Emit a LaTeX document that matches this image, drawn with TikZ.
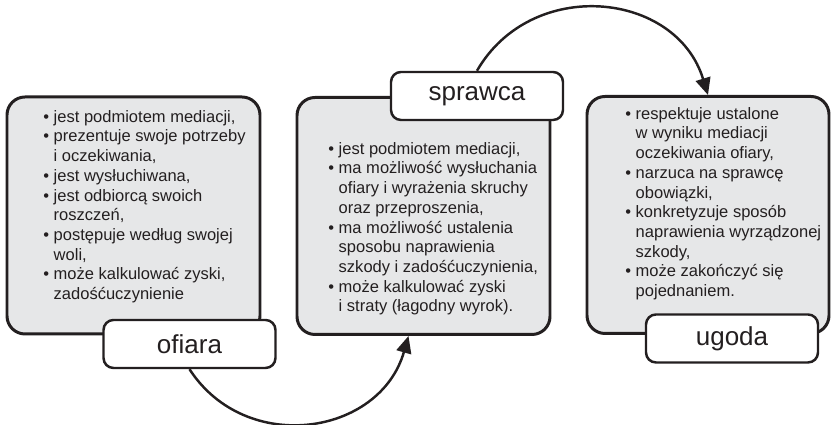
\documentclass[tikz,border=0pt]{standalone}
\usepackage{fontspec}
\setmainfont{Liberation Sans}
\definecolor{ink}      {HTML}{231F20}
\definecolor{panelgray}{HTML}{E6E7E8}
\usetikzlibrary{positioning,arrows.meta}
\newcommand\bul{•\ }
\newcommand\ind{\hphantom{•\ }}
\tikzset{
  panelbox/.style={draw=ink,line width=1.7pt,rounded corners=0.36cm,
                   fill=panelgray,minimum width=5.06cm,minimum height=4.74cm},
  tagbox/.style={draw=ink,line width=1.4pt,rounded corners=0.2cm,fill=white,
                 minimum width=3.44cm,minimum height=0.96cm,text=ink,
                 font=\fontsize{14.8}{17}\selectfont},
  list/.style={anchor=north west,inner sep=0pt,align=left,text=ink,
               font=\fontsize{9.4}{11.2}\selectfont},
  flow/.style={-{Triangle[length=0.34cm,width=0.3cm]},line width=1.4pt,
               draw=ink,looseness=1.2}
}

\begin{document}
\begin{tikzpicture}
  \useasboundingbox (0,0) rectangle (16.7,8.5);
  % panels
  \node[panelbox] (ofiaraBox)  at (2.67,4.19) {};
  \node[panelbox] (sprawcaBox) at (8.47,4.18) {};
  \node[panelbox,minimum width=4.84cm] (ugodaBox) at (14.16,4.2) {};
  % lists
  \node[list] (ofiaraList) at (0.86,6.3) {\bul jest podmiotem mediacji,\\
    \bul prezentuje swoje potrzeby\\ \ind i oczekiwania,\\
    \bul jest wysłuchiwana,\\
    \bul jest odbiorcą swoich\\ \ind roszczeń,\\
    \bul postępuje według swojej\\ \ind woli,\\
    \bul może kalkulować zyski,\\ \ind zadośćuczynienie};
  \node[list] (sprawcaList) at (6.56,5.66) {\bul jest podmiotem mediacji,\\
    \bul ma możliwość wysłuchania\\ \ind ofiary i wyrażenia skruchy\\
    \ind oraz przeproszenia,\\
    \bul ma możliwość ustalenia\\ \ind sposobu naprawienia\\
    \ind szkody i zadośćuczynienia,\\
    \bul może kalkulować zyski\\ \ind i straty (łagodny wyrok).};
  \node[list] (ugodaList) at (12.5,6.36) {\bul respektuje ustalone\\
    \ind w wyniku mediacji\\ \ind oczekiwania ofiary,\\
    \bul narzuca na sprawcę\\ \ind obowiązki,\\
    \bul konkretyzuje sposób\\ \ind naprawienia wyrządzonej\\ \ind szkody,\\
    \bul może zakończyć się\\ \ind pojednaniem.};
  % tags
  \node[tagbox] (ofiaraTag)  at (3.79,1.62)  {ofiara};
  \node[tagbox] (sprawcaTag) at (9.54,6.58)  {sprawca};
  \node[tagbox] (ugodaTag)   at (14.64,1.73) {ugoda};
  % arcs
  \draw[flow] (sprawcaTag.north) to[out=60,in=107] (ugodaBox.north);
  \draw[flow] (ofiaraTag.south) to[out=-57,in=-106]
    ([xshift=-0.3cm]sprawcaBox.south);
\end{tikzpicture}
\end{document}
